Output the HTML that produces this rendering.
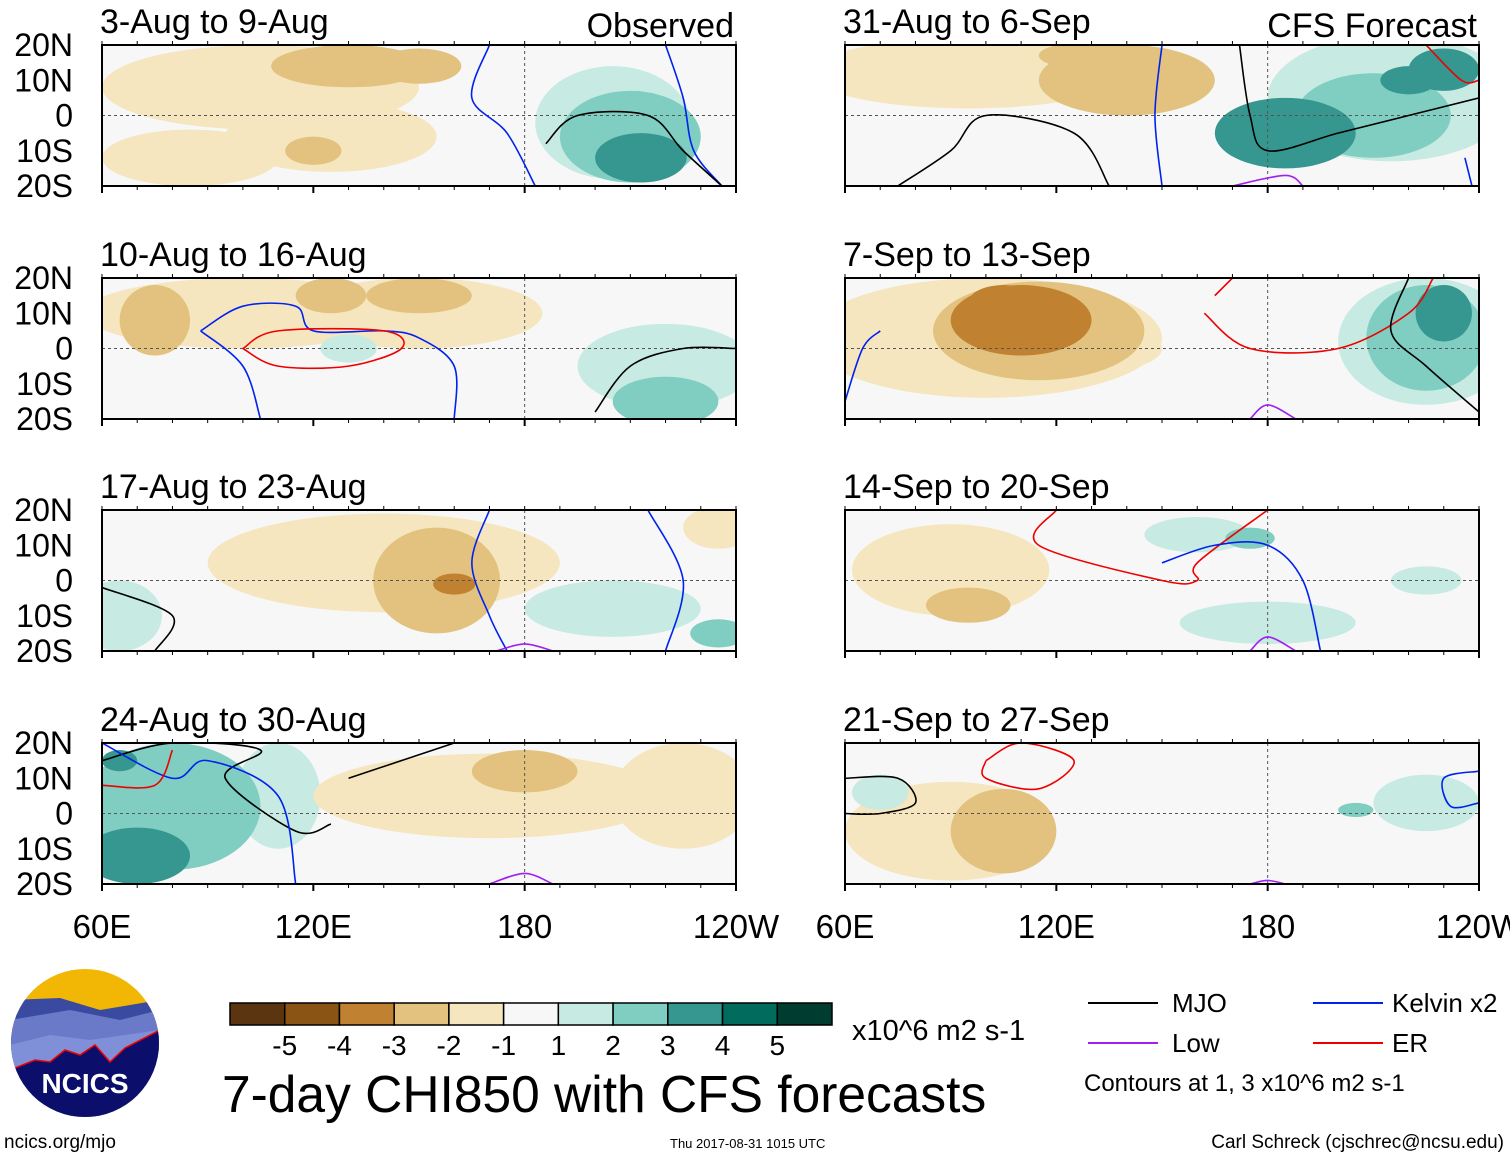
<!DOCTYPE html>
<html><head><meta charset="utf-8">
<style>
body{margin:0;background:#fff;}
svg{display:block;font-family:"Liberation Sans",Arial,sans-serif;}
</style></head>
<body>
<svg id="chart" width="1510" height="1158" viewBox="0 0 1510 1158" xmlns="http://www.w3.org/2000/svg">
<g id="panels"></g>
<g id="colorbar"></g>
<g font-size="26">
 <line x1="1088" y1="1003" x2="1158" y2="1003" stroke="#000" stroke-width="2"/>
 <text x="1172" y="1012">MJO</text>
 <line x1="1313" y1="1003" x2="1383" y2="1003" stroke="#0022ee" stroke-width="2"/>
 <text x="1392" y="1012">Kelvin x2</text>
 <line x1="1088" y1="1043" x2="1158" y2="1043" stroke="#a020f0" stroke-width="2"/>
 <text x="1172" y="1052">Low</text>
 <line x1="1313" y1="1043" x2="1383" y2="1043" stroke="#ee0000" stroke-width="2"/>
 <text x="1392" y="1052">ER</text>
 <text x="1084" y="1091" font-size="24">Contours at 1, 3 x10^6 m2 s-1</text>
</g>
<text x="222" y="1112" font-size="51.5">7-day CHI850 with CFS forecasts</text>
<text x="852" y="1040" font-size="29">x10^6 m2 s-1</text>
<text x="4" y="1148" font-size="19">ncics.org/mjo</text>
<text x="670" y="1148" font-size="13">Thu 2017-08-31 1015 UTC</text>
<text x="1504" y="1148" font-size="19" text-anchor="end">Carl Schreck (cjschrec@ncsu.edu)</text>
<g>
 <defs><clipPath id="lc"><circle cx="85" cy="1043" r="74"/></clipPath></defs>
 <g clip-path="url(#lc)">
  <rect x="10" y="968" width="150" height="150" fill="#f2b705"/>
  <path d="M10 1000 L60 998 L100 1010 L160 1000 L160 1118 L10 1118Z" fill="#3a4aa0"/>
  <path d="M10 1020 L70 1010 L120 1020 L160 1010 L160 1118 L10 1118Z" fill="#6a7ac8"/>
  <path d="M10 1045 L50 1035 L90 1040 L160 1030 L160 1118 L10 1118Z" fill="#8090d8"/>
  <path d="M10 1070 L35 1060 L50 1062 L65 1050 L80 1055 L95 1045 L110 1062 L125 1048 L160 1030 L160 1118 L10 1118Z" fill="#0b0f6b" stroke="#e00" stroke-width="1.5"/>
 </g>
 <text x="85" y="1093" font-size="28" font-weight="bold" fill="#fff" text-anchor="middle">NCICS</text>
</g>
</svg>
<script>
const NS="http://www.w3.org/2000/svg";
const levelColors={"-5":"#5a3510","-4":"#8a5415","-3":"#c08230","-2":"#e2c27e","-1":"#f5e6c0","1":"#c7eae2","2":"#80cdc1","3":"#35978f","4":"#016c5e","5":"#013c30"};
const cbLevels=[-5,-4,-3,-2,-1,0,1,2,3,4,5];
const cbLabels=["-5","-4","-3","-2","-1","1","2","3","4","5"];
const panelTitles=["3-Aug to 9-Aug","10-Aug to 16-Aug","17-Aug to 23-Aug","24-Aug to 30-Aug","31-Aug to 6-Sep","7-Sep to 13-Sep","14-Sep to 20-Sep","21-Sep to 27-Sep"];
const lonTicks=[60,120,180,240];
const lonLabels=["60E","120E","180","120W"];
const latTicks=[20,10,0,-10,-20];
const latLabels=["20N","10N","0","10S","20S"];
// blobs: [lon, lat, rx(deg), ry(deg), level]
const blobs=[
 [[105,8,45,12,-1],[125,-6,30,10,-1],[85,-12,25,8,-1],[130,14,22,6,-2],[150,14,12,5,-2],[120,-10,8,4,-2],[205,-2,22,16,1],[210,-6,20,13,2],[213,-12,13,7,3]],
 [[100,10,45,10,-1],[150,10,35,10,-1],[75,8,10,10,-2],[150,15,15,5,-2],[125,15,10,5,-2],[130,0,8,4,1],[220,-5,25,12,1],[220,-15,15,7,2]],
 [[140,5,50,14,-1],[155,0,18,15,-2],[160,-1,6,3,-3],[115,5,20,10,-1],[235,15,10,6,-1],[65,-10,12,10,1],[205,-8,25,8,1],[235,-15,8,4,2]],
 [[80,2,25,18,2],[70,-12,15,8,3],[110,5,12,15,1],[170,5,50,12,-1],[180,12,15,6,-2],[225,5,20,15,-1],[65,15,5,3,3]],
 [[95,12,45,10,-1],[140,10,25,10,-2],[130,17,15,4,-2],[215,5,35,18,1],[210,0,22,12,2],[230,13,10,6,3],[185,-5,20,10,3],[220,10,8,4,3]],
 [[100,3,50,17,-1],[115,5,30,14,-2],[110,8,20,10,-3],[105,13,10,5,-3],[135,0,15,6,-1],[225,2,25,18,1],[225,3,17,15,2],[230,10,8,8,3]],
 [[90,3,28,13,-1],[95,-7,12,5,-2],[160,13,15,5,1],[175,12,7,3,2],[180,-12,25,6,1],[225,0,10,4,1]],
 [[90,-5,30,14,-1],[105,-5,15,12,-2],[70,6,8,5,1],[225,3,15,8,1],[205,1,5,2,2]]
];
// contour lines: [color, [[lon,lat],...]]
const lines=[
 [["#0022ee",[[170,20],[165,5],[175,-5],[183,-20]]],["#0022ee",[[220,20],[225,5],[228,-10],[236,-20]]],["#000",[[186,-8],[195,0],[215,0],[225,-10],[236,-20]]]],
 [["#0022ee",[[88,5],[100,12],[115,12],[120,5],[140,5],[150,3],[160,-5],[160,-20]]],["#0022ee",[[88,5],[100,-5],[105,-20]]],["#ee0000",[[100,0],[110,5],[140,5],[145,0],[130,-5],[110,-5],[100,0]]],["#000",[[200,-18],[210,-5],[225,0],[240,0]]]],
 [["#0022ee",[[170,20],[165,5],[170,-10],[175,-20]]],["#0022ee",[[215,20],[225,0],[220,-20]]],["#000",[[60,-2],[80,-10],[75,-20]]],["#a020f0",[[172,-20],[180,-18],[188,-20]]]],
 [["#000",[[60,15],[80,20],[105,18],[95,10],[115,-5],[125,-3]]],["#0022ee",[[60,20],[80,10],[90,15],[110,5],[115,-20]]],["#ee0000",[[60,8],[75,8],[80,18]]],["#000",[[130,10],[160,20]]],["#a020f0",[[170,-20],[180,-17],[188,-20]]]],
 [["#0022ee",[[150,-20],[148,0],[150,20]]],["#000",[[75,-20],[90,-10],[100,0],[125,-5],[135,-20]]],["#000",[[172,20],[175,0],[180,-10],[200,-5],[220,0],[240,5]]],["#0022ee",[[238,-20],[236,-12]]],["#ee0000",[[225,20],[235,10],[240,10]]],["#a020f0",[[170,-20],[185,-17],[190,-20]]]],
 [["#0022ee",[[60,-15],[65,0],[70,5]]],["#ee0000",[[165,15],[170,20]]],["#ee0000",[[162,10],[175,0],[200,0],[220,10],[227,20]]],["#000",[[220,20],[215,5],[225,-5],[240,-18]]],["#a020f0",[[175,-20],[180,-16],[188,-20]]]],
 [["#ee0000",[[120,20],[115,10],[150,0],[160,0],[160,5],[180,20]]],["#0022ee",[[150,5],[165,10],[180,10],[190,0],[195,-20]]],["#a020f0",[[175,-20],[180,-16],[188,-20]]]],
 [["#000",[[60,10],[75,10],[80,3],[70,0],[60,0]]],["#ee0000",[[100,15],[110,20],[125,15],[115,7],[100,10],[100,15]]],["#0022ee",[[240,12],[230,10],[232,2],[240,3]]],["#a020f0",[[175,-20],[180,-19],[185,-20]]]]
];
const panelPos=[[102,45],[102,278],[102,510],[102,743],[845,45],[845,278],[845,510],[845,743]];
const W=634,H=141;
function mk(tag,attrs,parent){const e=document.createElementNS(NS,tag);for(const k in attrs)e.setAttribute(k,attrs[k]);parent.appendChild(e);return e;}
function smooth(pts){
 let d='M'+pts[0][0]+' '+pts[0][1];
 for(let i=0;i<pts.length-1;i++){
  const p0=pts[i-1]||pts[i],p1=pts[i],p2=pts[i+1],p3=pts[i+2]||p2;
  const c1=[p1[0]+(p2[0]-p0[0])/6,p1[1]+(p2[1]-p0[1])/6];
  const c2=[p2[0]-(p3[0]-p1[0])/6,p2[1]-(p3[1]-p1[1])/6];
  d+=' C'+c1[0]+' '+c1[1]+' '+c2[0]+' '+c2[1]+' '+p2[0]+' '+p2[1];
 }
 return d;
}
const root=document.getElementById('panels');
panelPos.forEach((p,i)=>{
 const [px,py]=p;
 const x=lon=>px+(lon-60)/180*W;
 const y=lat=>py+(20-lat)/40*H;
 const g=mk('g',{},root);
 
 
 const cp=mk('clipPath',{id:'c'+i},g);
 mk('rect',{x:px,y:py,width:W,height:H},cp);
 const inner=mk('g',{'clip-path':'url(#c'+i+')'},g);
 mk('rect',{x:px,y:py,width:W,height:H,fill:'#f7f7f7'},inner);
 const bl=blobs[i].slice().sort((a,b)=>Math.abs(a[4])-Math.abs(b[4]));
 bl.forEach(b=>{const e=mk('ellipse',{cx:x(b[0]),cy:y(b[1]),rx:b[2]/180*W,ry:b[3]/40*H,fill:levelColors[b[4]]},inner);
  
  });
 mk('line',{x1:px,y1:y(0),x2:px+W,y2:y(0),stroke:'#555','stroke-dasharray':'3,3'},inner);
 mk('line',{x1:x(180),y1:py,x2:x(180),y2:py+H,stroke:'#555','stroke-dasharray':'3,3'},inner);
 lines[i].forEach(l=>{const e=mk('path',{d:smooth(l[1].map(q=>[x(q[0]),y(q[1])])),fill:'none',stroke:l[0],'stroke-width':1.6},inner);
  
  });
 mk('rect',{x:px,y:py,width:W,height:H,fill:'none',stroke:'#000','stroke-width':2},g);
 for(let lon=60;lon<=240;lon+=10){mk('line',{x1:x(lon),y1:py,x2:x(lon),y2:py-4,stroke:'#000'},g);mk('line',{x1:x(lon),y1:py+H,x2:x(lon),y2:py+H+4,stroke:'#000'},g);}
 lonTicks.forEach(l=>{mk('line',{x1:x(l),y1:py+H,x2:x(l),y2:py+H+7,stroke:'#000','stroke-width':2},g);});
 const t=mk('text',{x:px-2,y:py-12,'font-size':34},g);t.textContent=panelTitles[i];
 
 
 if(i<4){latTicks.forEach((lt,j)=>{const tt=mk('text',{x:73,y:y(lt)+11,'font-size':32,'text-anchor':'end'},g);tt.textContent=latLabels[j];
  
  });}
 if(i===3||i===7){lonTicks.forEach((l,j)=>{const tt=mk('text',{x:x(l),y:py+H+54,'font-size':33,'text-anchor':'middle'},g);tt.textContent=lonLabels[j];
  
  });}
 if(i===0){const tt=mk('text',{x:px+W-2,y:py-8,'font-size':34,'text-anchor':'end'},g);tt.textContent='Observed';
  
  }
 if(i===4){const tt=mk('text',{x:px+W-2,y:py-8,'font-size':34,'text-anchor':'end'},g);tt.textContent='CFS Forecast';
  
  }
});
const cb=document.getElementById('colorbar');
const bw=602/cbLevels.length;
cbLevels.forEach((lv,k)=>{const r=mk('rect',{x:230+k*bw,y:1003,width:bw,height:22,fill:lv===0?'#f7f7f7':levelColors[lv],stroke:'#000','stroke-width':1.5},cb);
 
 });
cbLabels.forEach((lb,k)=>{const t=mk('text',{x:230+(k+1)*bw,y:1055,'font-size':28,'text-anchor':'middle'},cb);t.textContent=lb;
 
 });
</script>
</body></html>
